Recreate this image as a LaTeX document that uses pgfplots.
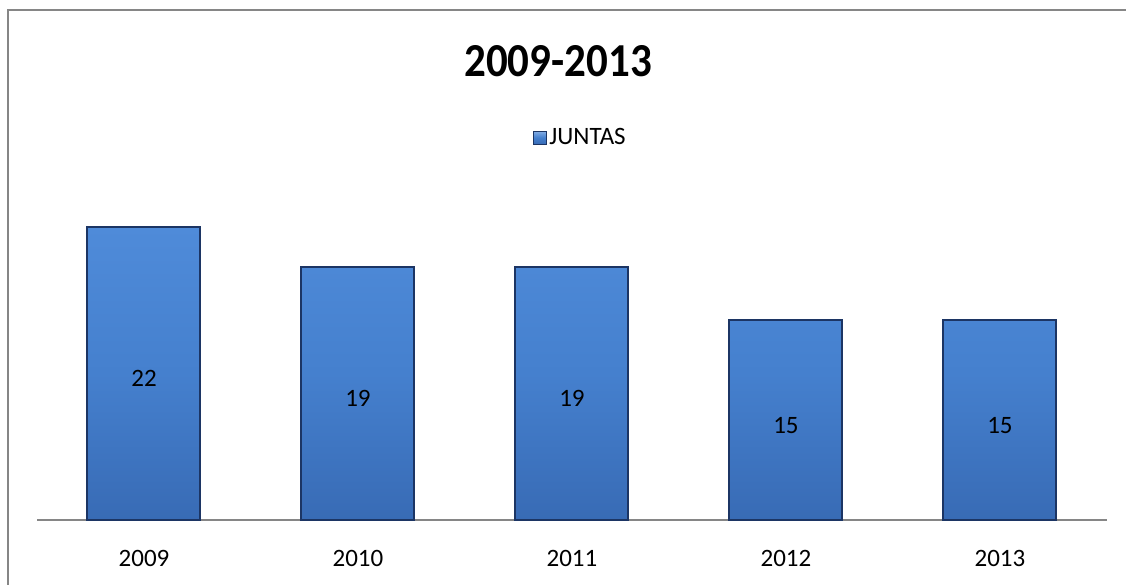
\documentclass[border=0pt]{standalone}
\usepackage{fontspec}
\setmainfont{Carlito}
\usepackage{pgfplots}
\pgfplotsset{compat=1.18}
\definecolor{barTop}{HTML}{4F8BD9}
\definecolor{barMid}{HTML}{4580CE}
\definecolor{barBot}{HTML}{386BB5}
\definecolor{barEdge}{HTML}{1C3564}
\definecolor{frameGray}{HTML}{868686}
\begin{document}
\begin{tikzpicture}
\useasboundingbox (0,0) rectangle (1126pt,584pt);
\begin{scope}
\clip (0,0) rectangle (1126pt,584pt);
\draw[color=frameGray, line width=2pt] (8pt,-20pt) rectangle (1160pt,574pt);
\end{scope}
\begin{axis}[
  at={(37pt,64pt)}, anchor=south west,
  scale only axis, width=1070pt, height=333pt,
  xmin=-0.5, xmax=4.5, ymin=0, ymax=25,
  axis x line=bottom, axis y line=none,
  x axis line style={-, color=frameGray, line width=1.5pt},
  xtick=data, xticklabels={2009,2010,2011,2012,2013},
  xtick style={draw=none}, major tick length=0pt,
  ytick=\empty,
  /pgf/number format/assume math mode=true,
  xticklabel style={font=\fontsize{25}{28}\selectfont, yshift=-27pt},
  title={\fontsize{43}{50}\selectfont\bfseries\scalebox{1}[1.1]{2009-2013}},
  title style={at={(0.487,1.36)}, anchor=center},
  legend style={at={(0.508,1.150)}, anchor=center, draw=none, fill=none,
    font=\fontsize{25}{28}\selectfont, inner sep=0pt,
    legend cell align=left},
  legend image code/.code={\draw[draw=barEdge, line width=1pt, top color=barTop!70!white, bottom color=barBot, middle color=barMid] (0pt,-7pt) rectangle (13pt,6pt);},
  clip=false,
]
\addplot[ybar, bar width=113pt, draw=barEdge, line width=2pt,
  top color=barTop, bottom color=barBot, middle color=barMid,
  nodes near coords,
  visualization depends on=rawy \as \rawy,
  every node near coord/.append style={anchor=center, text=black,
     font=\fontsize{25}{28}\selectfont,
     shift={(axis direction cs:0,-\rawy/2)}, yshift=-5pt}]
  coordinates {(0,22) (1,19) (2,19) (3,15) (4,15)};
\addlegendentry{JUNTAS}
\end{axis}
\end{tikzpicture}
\end{document}
